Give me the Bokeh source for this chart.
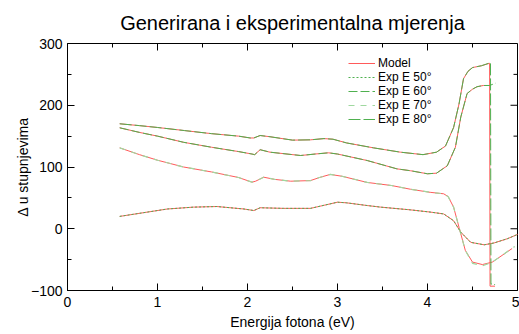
from bokeh.plotting import figure
from bokeh.models import Legend, LegendItem, FixedTicker
from bokeh.embed import file_html
from bokeh.resources import INLINE

# ---- data ----
E1 = [0.58, 0.8, 1.0, 1.3, 1.6, 1.9, 2.03, 2.07, 2.14, 2.25, 2.5, 2.7, 2.85, 2.95, 3.1, 3.4, 3.7, 3.95,
      4.1, 4.2, 4.29, 4.35, 4.4, 4.45, 4.5, 4.6, 4.69, 4.695, 4.75]
D1 = [170, 167, 164, 159, 154, 150, 147, 147, 151, 149, 143.5, 144, 146, 145, 139, 131, 124, 120,
      124, 134, 164, 202, 243, 255, 261, 264, 268, -93, -93]
E1x = [0.58, 0.8, 1.0, 1.3, 1.6, 1.9, 2.03, 2.07, 2.14, 2.25, 2.5, 2.7, 2.85, 2.95, 3.1, 3.4, 3.7, 3.95,
       4.1, 4.2, 4.29, 4.35, 4.4, 4.45, 4.5, 4.6, 4.70, 4.705, 4.73, 4.75]
D1x = [170, 167, 164, 159, 154, 150, 147, 147, 151, 149, 143.5, 144, 146, 145, 139, 131, 124, 120,
       124, 134, 164, 202, 243, 255, 261, 264, 269, -90, -88, -91]

E2 = [0.58, 0.8, 1.0, 1.29, 1.6, 1.9, 2.05, 2.08, 2.14, 2.25, 2.59, 2.75, 2.9, 3.0, 3.33, 3.66, 3.81,
      4.0, 4.1, 4.22, 4.31, 4.37, 4.44, 4.5, 4.55, 4.62, 4.69]
D2 = [163.5, 156, 150, 140, 132, 125, 121, 120, 128, 124, 118.6, 121, 123, 121, 110.5, 97, 94,
      89, 90, 102, 132, 181, 219, 226, 230, 232, 232]
E2x = [0.58, 0.8, 1.0, 1.29, 1.6, 1.9, 2.05, 2.08, 2.14, 2.25, 2.59, 2.75, 2.9, 3.0, 3.33, 3.66, 3.81,
       4.0, 4.1, 4.22, 4.31, 4.37, 4.44, 4.5, 4.55, 4.62, 4.69, 4.76]
D2x = [163.5, 156, 150, 140, 132, 125, 121, 120, 128, 124, 118.6, 121, 123, 121, 110.5, 97, 94,
       89, 90, 102, 132, 181, 219, 226, 230, 232, 232, 236]

E3 = [0.58, 0.8, 1.0, 1.29, 1.6, 1.9, 2.05, 2.09, 2.18, 2.3, 2.48, 2.7, 2.8, 2.92, 3.05, 3.33, 3.6,
      3.81, 4.03, 4.18, 4.23, 4.29, 4.35, 4.42, 4.5, 4.61, 4.72, 4.85, 4.94]
D3 = [131, 120, 111, 100, 92, 83, 75.4, 77, 83.5, 80, 77, 78, 83, 88, 85, 75, 70,
      64, 59, 56.6, 52, 35, 2.5, -35, -54, -58, -54, -41, -32]
E3x = [0.58, 0.8, 1.0, 1.29, 1.6, 1.9, 2.05, 2.09, 2.18, 2.3, 2.48, 2.7, 2.8, 2.92, 3.05, 3.33, 3.6,
       3.81, 4.03, 4.18, 4.23, 4.29, 4.35, 4.42, 4.5, 4.61, 4.72, 4.85, 4.94, 4.97]
D3x = [131, 120, 111, 100, 92, 83, 75.4, 77, 83.5, 80, 77, 78, 83, 88, 85, 75, 70,
       64, 59, 56.6, 52, 35, 2.5, -35, -56, -60, -54, -41, -31, -29]

E4 = [0.58, 0.8, 1.11, 1.4, 1.66, 1.96, 2.07, 2.14, 2.4, 2.7, 2.85, 3.0, 3.1, 3.33, 3.48, 3.81,
      4.03, 4.18, 4.29, 4.37, 4.48, 4.63, 4.74, 4.89, 5.02]
D4 = [20, 25, 32, 35, 36, 32, 29.5, 34, 33, 33, 38, 43, 42, 37.6, 35, 30.6,
      27, 24, 13, -5.6, -22, -26, -23, -16, -8]

x_ticks = [0, 1, 2, 3, 4, 5]
x_minor = [0.5, 1.5, 2.5, 3.5, 4.5]
y_ticks = [-100, 0, 100, 200, 300]
y_minor = [-50, 50, 150, 250]

labels = ["Model", "Exp E 50°", "Exp E 60°", "Exp E 70°", "Exp E 80°"]

RED = "#ff5a5a"
GREEN = "#4fb04f"
LIGHT = "#9fd89f"
FONT = "Liberation Sans"

W, H = 519, 334
BL, BR, BT, BB = 67, 2, 43, 44
FW, FH = W - BL - BR, H - BT - BB
MAJ, MIN = 7, 4

x0, x1 = x_ticks[0], x_ticks[-1]
y0, y1 = y_ticks[0], y_ticks[-1]

p = figure(width=W, height=H, x_range=(x0, x1), y_range=(y0, y1),
           output_backend="svg", toolbar_location=None,
           min_border_left=BL, min_border_right=BR, min_border_top=BT, min_border_bottom=BB)
p.grid.visible = False
p.outline_line_color = "black"
p.background_fill_color = "white"

p.title.text = "Generirana i eksperimentalna mjerenja"
p.title.align = "center"
p.title.text_font = FONT
p.title.text_font_size = "20px"
p.title.text_font_style = "normal"
p.title.text_color = "black"
p.title.standoff = 19

def style_axis(ax, ticks, minor):
    ax.ticker = FixedTicker(ticks=ticks, minor_ticks=minor)
    ax.major_tick_in = MAJ
    ax.major_tick_out = 0
    ax.minor_tick_in = MIN
    ax.minor_tick_out = 0
    ax.axis_line_color = "black"
    ax.major_tick_line_color = "black"
    ax.minor_tick_line_color = "black"
    ax.major_label_text_font = FONT
    ax.major_label_text_color = "black"
    ax.major_label_text_font_size = "14px"
    ax.axis_label_text_font = FONT
    ax.axis_label_text_font_style = "normal"
    ax.axis_label_text_font_size = "14px"
    ax.axis_label_text_color = "black"

style_axis(p.xaxis[0], x_ticks, x_minor)
style_axis(p.yaxis[0], y_ticks, y_minor)
p.xaxis[0].axis_label = "Energija fotona (eV)"
p.yaxis[0].axis_label = "Δ u stupnjevima"
p.xaxis[0].major_label_standoff = 6
p.xaxis[0].axis_label_standoff = 4
p.yaxis[0].major_label_standoff = 5
p.yaxis[0].axis_label_standoff = -3

# mirrored inward ticks on the top and right frame edges
dy_maj = MAJ * (y1 - y0) / FH
dy_min = MIN * (y1 - y0) / FH
dx_maj = MAJ * (x1 - x0) / FW
dx_min = MIN * (x1 - x0) / FW
p.segment(x0=x_ticks, y0=[y1] * len(x_ticks), x1=x_ticks, y1=[y1 - dy_maj] * len(x_ticks),
          line_color="black", line_width=1)
p.segment(x0=x_minor, y0=[y1] * len(x_minor), x1=x_minor, y1=[y1 - dy_min] * len(x_minor),
          line_color="black", line_width=1)
p.segment(x0=[x1] * len(y_ticks), y0=y_ticks, x1=[x1 - dx_maj] * len(y_ticks), y1=y_ticks,
          line_color="black", line_width=1)
p.segment(x0=[x1] * len(y_minor), y0=y_minor, x1=[x1 - dx_min] * len(y_minor), y1=y_minor,
          line_color="black", line_width=1)

# model curves (red) and experimental curves (green dashed on top)
m1 = p.line(E1, D1, line_color=RED, line_width=1)
p.line(E2, D2, line_color=RED, line_width=1)
p.line(E3, D3, line_color=RED, line_width=1)
p.line(E4, D4, line_color=RED, line_width=1)

r1 = p.line(E1x, D1x, line_color=GREEN, line_width=1, line_dash="12 3")
r2 = p.line(E2x, D2x, line_color=GREEN, line_width=1, line_dash="9 3")
r3 = p.line(E3x, D3x, line_color=LIGHT, line_width=1.2, line_dash="6 6")
r4 = p.line(E4, D4, line_color=GREEN, line_width=1, line_dash="2 2")

legend = Legend(items=[LegendItem(label=labels[0], renderers=[m1]),
                       LegendItem(label=labels[1], renderers=[r4]),
                       LegendItem(label=labels[2], renderers=[r2]),
                       LegendItem(label=labels[3], renderers=[r3]),
                       LegendItem(label=labels[4], renderers=[r1])],
                location=(281, 164))
legend.background_fill_alpha = 0
legend.border_line_alpha = 0
legend.padding = 0
legend.margin = 0
legend.spacing = 0
legend.label_height = 12
legend.glyph_height = 12
legend.glyph_width = 27
legend.label_standoff = 3
legend.label_text_font = FONT
legend.label_text_font_size = "12px"
legend.label_text_color = "black"
p.add_layout(legend)

open("out.html", "w").write(file_html(p, INLINE))
